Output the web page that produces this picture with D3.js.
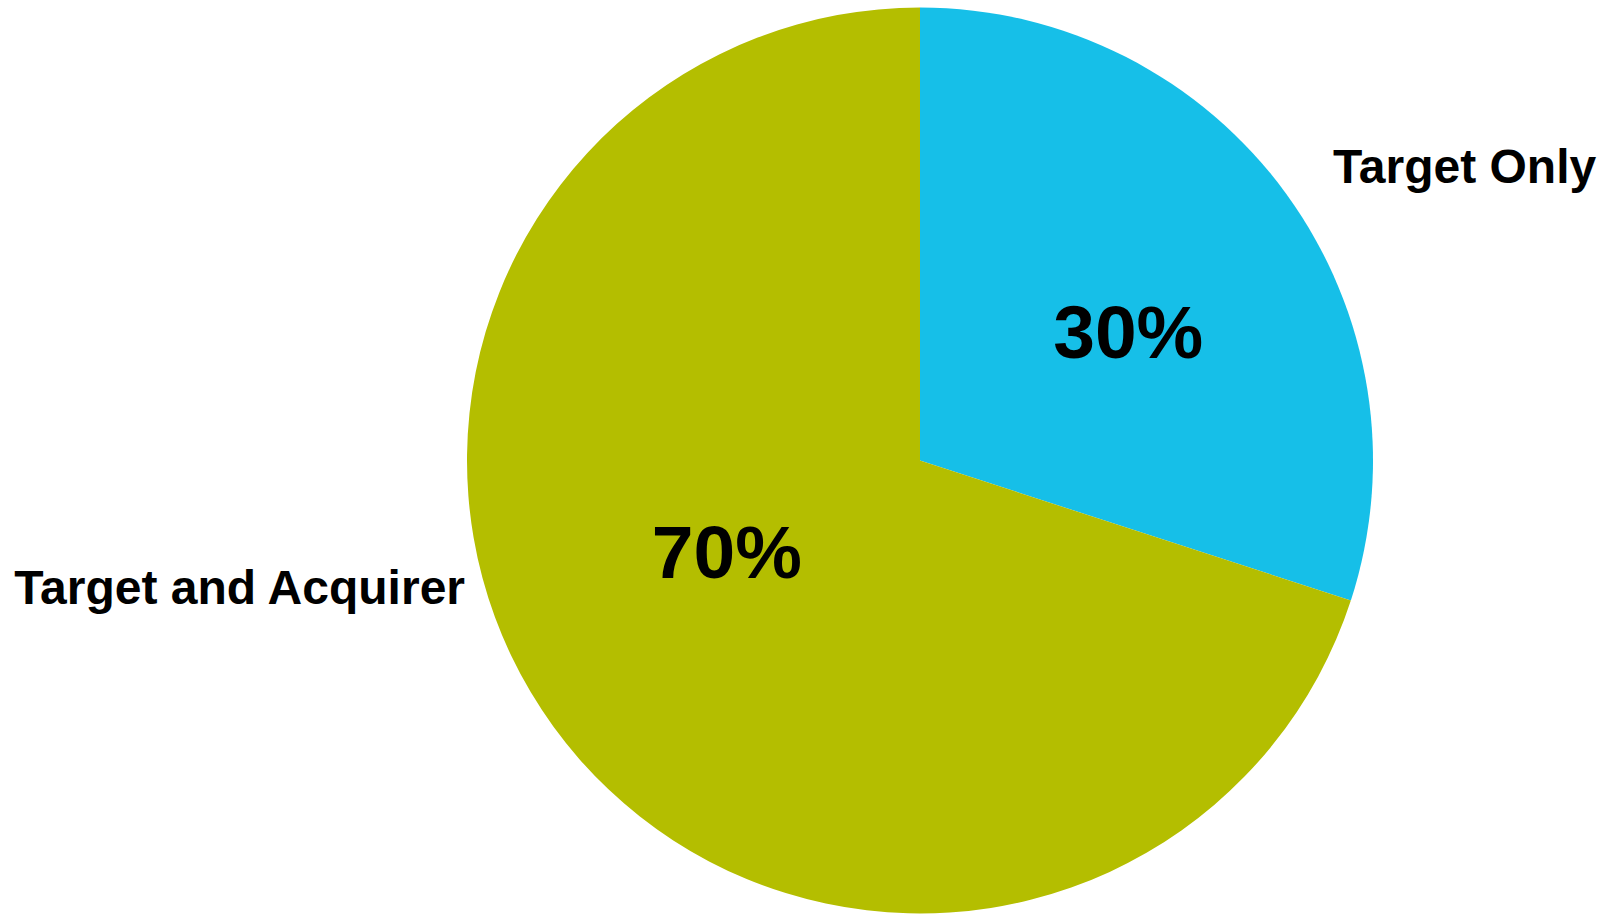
<!DOCTYPE html>
<html>
<head>
<meta charset="utf-8">
<script src="https://cdn.jsdelivr.net/npm/d3@7"></script>
<style>
  html, body { margin: 0; padding: 0; background: #ffffff; }
  svg { display: block; }
  text { font-family: "Liberation Sans", Arial, sans-serif; font-weight: bold; fill: #000; }
</style>
</head>
<body>
<svg id="chart" width="1602" height="914"></svg>
<script>
// Share of deals by who is affected
const categories = ["Target Only", "Target and Acquirer"];
const shares = [30, 70];
const colours = ["#16BFE8", "#B4BE00"];

const width = 1602, height = 914;
const cx = 920, cy = 460.5, radius = 453;

const svg = d3.select("#chart");
const g = svg.append("g").attr("transform", `translate(${cx},${cy})`);

const pie = d3.pie().sort(null).value(d => d.value).startAngle(0).endAngle(2 * Math.PI);
const arcs = pie(categories.map((c, i) => ({ name: c, value: shares[i], colour: colours[i] })));

const arc = d3.arc().innerRadius(0).outerRadius(radius);

g.selectAll("path.slice")
  .data(arcs)
  .enter().append("path")
  .attr("class", "slice")
  .attr("d", arc)
  .attr("fill", d => d.data.colour);

// Percentage labels inside each slice, placed from the slice's mid-angle
const inner = d3.arc().innerRadius(0).outerRadius(radius * 1.06);
const pctNudge = [[14, 13], [1, -50]];
g.selectAll("text.pct")
  .data(arcs)
  .enter().append("text")
  .attr("class", "pct")
  .attr("x", (d, i) => inner.centroid(d)[0] + pctNudge[i][0])
  .attr("y", (d, i) => inner.centroid(d)[1] + pctNudge[i][1])
  .attr("text-anchor", "middle")
  .attr("dominant-baseline", "central")
  .style("font-size", "75px")
  .text(d => d.data.value + "%");

// Category labels outside the pie
const catPlace = [
  { anchor: "start", dx: 413, dy: -278 },
  { anchor: "end", dx: -455, dy: 143 }
];
g.selectAll("text.cat")
  .data(arcs)
  .enter().append("text")
  .attr("class", "cat")
  .attr("x", (d, i) => catPlace[i].dx)
  .attr("y", (d, i) => catPlace[i].dy)
  .attr("text-anchor", (d, i) => catPlace[i].anchor)
  .style("font-size", "48px")
  .text(d => d.data.name);
</script>
</body>
</html>
